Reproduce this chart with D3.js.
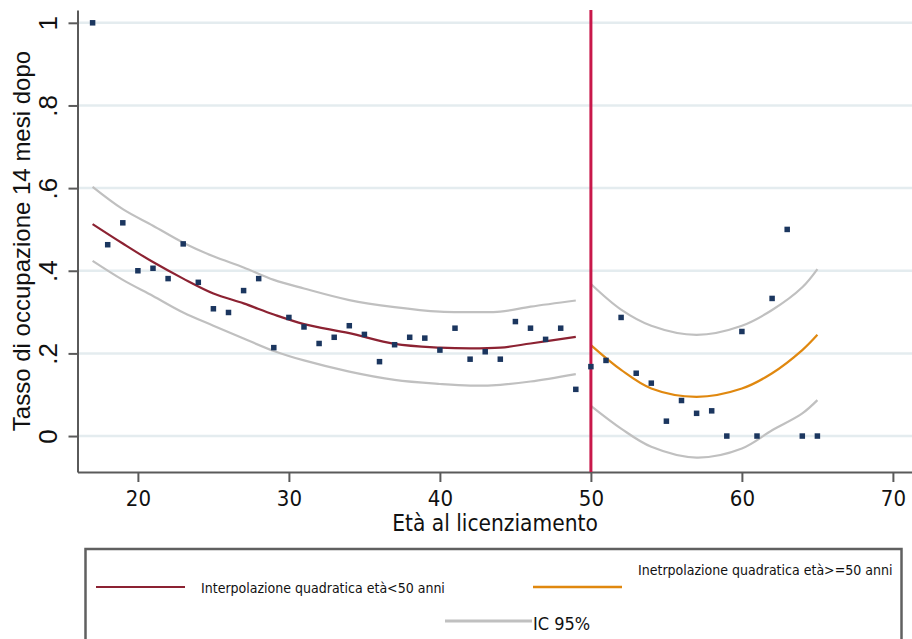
<!DOCTYPE html>
<html>
<head>
<meta charset="utf-8">
<script src="https://cdn.jsdelivr.net/npm/d3@7"></script>
<style>
  body { margin: 0; background: #fff; }
  svg { display: block; }
</style>
</head>
<body>
<svg id="chart"></svg>
<script>
// observed rates by age at dismissal
const ages = [17,18,19,20,21,22,23,24,25,26,27,28,29,30,31,32,33,34,35,36,37,38,39,40,41,
              42,43,44,45,46,47,48,49,50,51,52,53,54,55,56,57,58,59,60,61,62,63,64,65];
const rates = [1.0,0.463,0.516,0.400,0.406,0.381,0.465,0.372,0.308,0.299,0.352,0.381,0.214,0.287,
               0.264,0.224,0.239,0.267,0.246,0.180,0.221,0.239,0.237,0.208,0.261,0.186,0.204,0.186,
               0.277,0.261,0.234,0.261,0.113,0.168,0.183,0.287,0.152,0.128,0.036,0.086,0.055,0.061,
               0,0.253,0,0.333,0.5,0,0];

// quadratic fit, age < 50
const fitAgesLow = [17,19,21,23,25,27,29,31,34,37,40,42,44,46,49];
const fitLow     = [0.513,0.466,0.421,0.381,0.345,0.321,0.294,0.271,0.249,0.223,0.214,0.212,0.214,0.224,0.240];
const ciLowUp    = [0.603,0.549,0.509,0.468,0.435,0.408,0.378,0.357,0.329,0.312,0.301,0.300,0.301,0.313,0.328];
const ciLowDown  = [0.424,0.378,0.339,0.299,0.267,0.236,0.206,0.183,0.156,0.136,0.126,0.122,0.124,0.132,0.150];

// quadratic fit, age >= 50
const fitAgesHigh = [50,52,54,57,60,62,64,65];
const fitHigh     = [0.220,0.160,0.115,0.095,0.115,0.152,0.208,0.245];
const ciHighUp    = [0.368,0.306,0.267,0.245,0.267,0.305,0.360,0.404];
const ciHighDown  = [0.073,0.018,-0.026,-0.052,-0.030,0.014,0.055,0.087];

const xTicks = [20,30,40,50,60,70];
const yTicks = [0,0.2,0.4,0.6,0.8,1];
const yTickLabels = ['0','.2','.4','.6','.8','1'];
const cutoff = 50;

const width = 912, height = 639;
const svg = d3.select('#chart').attr('width', width).attr('height', height);

const x = d3.scaleLinear().domain([16,72]).range([77.5, 923.1]);
const y = d3.scaleLinear().domain([-0.087, 1.031]).range([472, 10]);

// gridlines
svg.append('g').selectAll('line').data(yTicks).join('line')
  .attr('x1', 77.5).attr('x2', width)
  .attr('y1', d => y(d)).attr('y2', d => y(d))
  .attr('stroke', '#e4ecef').attr('stroke-width', 2.5);

// y axis
const yAxis = svg.append('g')
  .attr('transform', 'translate(77.5,0)')
  .call(d3.axisLeft(y).tickValues(yTicks).tickSize(9).tickSizeOuter(0)
        .tickFormat((d,i) => yTickLabels[i]));
yAxis.select('.domain').attr('stroke', '#5a5a5a').attr('stroke-width', 2);
yAxis.selectAll('.tick line').attr('stroke', '#5a5a5a').attr('stroke-width', 2);
yAxis.selectAll('.tick text')
  .attr('transform', 'rotate(-90)')
  .attr('x', 0).attr('y', -20.5).attr('dy', 0)
  .attr('text-anchor', 'middle')
  .style('font-family', '"Liberation Sans", Arial, sans-serif')
  .style('font-size', '26px').attr('fill', '#111');

// x axis
const xAxis = svg.append('g')
  .attr('transform', 'translate(0,472)')
  .call(d3.axisBottom(x).tickValues(xTicks).tickSize(10).tickSizeOuter(0));
xAxis.select('.domain').attr('stroke', '#5a5a5a').attr('stroke-width', 2);
xAxis.selectAll('.tick line').attr('stroke', '#5a5a5a').attr('stroke-width', 2);
xAxis.selectAll('.tick text')
  .attr('y', 34).attr('dy', 0)
  .style('font-family', '"DejaVu Sans Condensed", "DejaVu Sans", sans-serif')
  .style('font-size', '22px').attr('fill', '#111');

// axis titles
svg.append('text')
  .attr('transform', 'translate(30,241) rotate(-90)')
  .attr('text-anchor', 'middle')
  .style('font-family', '"Liberation Sans", Arial, sans-serif')
  .style('font-size', '24px').attr('fill', '#111')
  .text('Tasso di occupazione 14 mesi dopo');

svg.append('text')
  .attr('x', 495).attr('y', 531)
  .attr('text-anchor', 'middle')
  .style('font-family', '"DejaVu Sans Condensed", "DejaVu Sans", sans-serif')
  .style('font-size', '22.5px').attr('fill', '#111')
  .text('Età al licenziamento');

// curves
const line = d3.line().x(d => x(d[0])).y(d => y(d[1])).curve(d3.curveCatmullRom);
const curves = [
  {a: fitAgesLow, v: ciLowUp, color: '#c0c0c0'},
  {a: fitAgesLow, v: ciLowDown, color: '#c0c0c0'},
  {a: fitAgesHigh, v: ciHighUp, color: '#c0c0c0'},
  {a: fitAgesHigh, v: ciHighDown, color: '#c0c0c0'},
  {a: fitAgesLow, v: fitLow, color: '#8c2232'},
  {a: fitAgesHigh, v: fitHigh, color: '#e0880f'}
];
svg.append('g').selectAll('path').data(curves).join('path')
  .attr('d', c => line(c.a.map((a,i) => [a, c.v[i]])))
  .attr('fill', 'none').attr('stroke', c => c.color).attr('stroke-width', 2.2);

// cutoff line
svg.append('line')
  .attr('x1', x(cutoff)).attr('x2', x(cutoff))
  .attr('y1', 10).attr('y2', 472)
  .attr('stroke', '#c8184a').attr('stroke-width', 3);

// points
svg.append('g').selectAll('rect').data(ages).join('rect')
  .attr('x', d => x(d) - 2.75)
  .attr('y', (d,i) => y(rates[i]) - 2.75)
  .attr('width', 5.5).attr('height', 5.5)
  .attr('fill', '#1b365f');

// legend
const lg = svg.append('g');
lg.append('rect')
  .attr('x', 85.5).attr('y', 549).attr('width', 816).attr('height', 120)
  .attr('fill', 'none').attr('stroke', '#606060').attr('stroke-width', 2.5);

const legendFont = '"DejaVu Sans Condensed", "DejaVu Sans", sans-serif';
lg.append('line').attr('x1', 96).attr('x2', 185).attr('y1', 587).attr('y2', 587)
  .attr('stroke', '#8c2232').attr('stroke-width', 2);
lg.append('text').attr('x', 201).attr('y', 593)
  .style('font-family', legendFont).style('font-size', '14px').attr('fill', '#111')
  .text('Interpolazione quadratica età<50 anni');

lg.append('line').attr('x1', 533).attr('x2', 622).attr('y1', 587).attr('y2', 587)
  .attr('stroke', '#e0880f').attr('stroke-width', 2.5);
lg.append('text').attr('x', 638).attr('y', 575)
  .style('font-family', legendFont).style('font-size', '14px').attr('fill', '#111')
  .text('Inetrpolazione quadratica età>=50 anni');

lg.append('line').attr('x1', 445).attr('x2', 532).attr('y1', 621).attr('y2', 621)
  .attr('stroke', '#c0c0c0').attr('stroke-width', 3);
lg.append('text').attr('x', 533).attr('y', 630)
  .style('font-family', legendFont).style('font-size', '18px').attr('fill', '#111')
  .text('IC 95%');
</script>
</body>
</html>
